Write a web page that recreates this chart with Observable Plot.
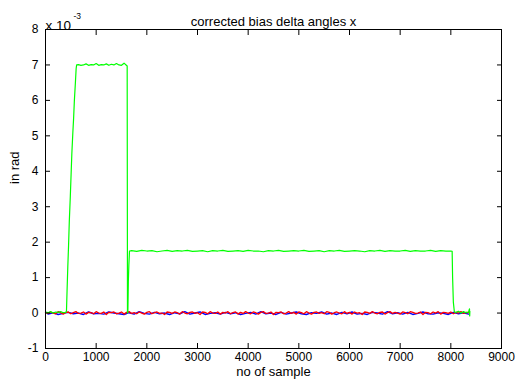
<!DOCTYPE html>
<html>
<head>
<meta charset="utf-8">
<script src="https://cdn.jsdelivr.net/npm/d3@7"></script>
<script src="https://cdn.jsdelivr.net/npm/@observablehq/plot@0.6"></script>
<style>
  html, body { margin: 0; padding: 0; background: #fff; }
  svg { font-family: "Liberation Sans", Arial, Helvetica, sans-serif; }
</style>
</head>
<body>
<div id="chart"></div>
<script>
// ---- labels ----
const titleText = "corrected bias delta angles x";
const xLabel = "no of sample";
const yLabel = "in rad";
const scaleBase = "x 10";
const scaleExp = "-3";
const xTicks = [0, 1000, 2000, 3000, 4000, 5000, 6000, 7000, 8000, 9000];
const yTicks = [-1, 0, 1, 2, 3, 4, 5, 6, 7, 8];

// ---- red series (values in 1e-3 rad) ----
const redSamples = [
0,50,100,150,200,250,300,350,400,450,
500,550,600,650,700,750,800,850,900,950,
1000,1050,1100,1150,1200,1250,1300,1350,1400,1450,
1500,1550,1600,1650,1700,1750,1800,1850,1900,1950,
2000,2050,2100,2150,2200,2250,2300,2350,2400,2450,
2500,2550,2600,2650,2700,2750,2800,2850,2900,2950,
3000,3050,3100,3150,3200,3250,3300,3350,3400,3450,
3500,3550,3600,3650,3700,3750,3800,3850,3900,3950,
4000,4050,4100,4150,4200,4250,4300,4350,4400,4450,
4500,4550,4600,4650,4700,4750,4800,4850,4900,4950,
5000,5050,5100,5150,5200,5250,5300,5350,5400,5450,
5500,5550,5600,5650,5700,5750,5800,5850,5900,5950,
6000,6050,6100,6150,6200,6250,6300,6350,6400,6450,
6500,6550,6600,6650,6700,6750,6800,6850,6900,6950,
7000,7050,7100,7150,7200,7250,7300,7350,7400,7450,
7500,7550,7600,7650,7700,7750,7800,7850,7900,7950,
8000,8050,8100,8150,8200,8250,8300,8350];
const redValues = [
0.02,-0.01,0.03,0.00,-0.02,0.04,0.01,-0.03,0.02,0.03,
-0.02,0.01,0.04,-0.01,0.00,0.03,-0.03,0.02,0.01,-0.02,
0.04,0.00,-0.01,0.03,-0.04,0.02,0.01,0.03,-0.02,0.00,
0.03,-0.03,0.02,0.04,-0.01,0.01,-0.02,0.03,0.00,-0.03,
0.02,0.04,-0.02,0.01,0.03,-0.01,0.00,-0.04,0.03,0.02,
-0.01,0.03,0.01,-0.03,0.04,0.00,-0.02,0.02,0.03,-0.01,
0.01,-0.04,0.03,0.02,-0.02,0.04,0.00,-0.01,0.03,-0.03,
0.02,0.00,0.04,-0.02,0.01,0.03,-0.03,0.02,-0.01,0.04,
0.00,-0.02,0.03,0.01,-0.03,0.02,0.04,-0.01,0.00,0.03,
-0.04,0.02,0.01,0.03,-0.02,0.00,0.04,-0.01,0.02,-0.03,
0.03,0.01,-0.02,0.04,0.00,-0.03,0.02,0.03,-0.01,0.01,
-0.02,0.04,0.02,-0.03,0.01,0.03,0.00,-0.02,0.04,-0.01,
0.02,-0.03,0.03,0.00,0.01,-0.04,0.03,0.02,-0.01,0.04,
0.00,-0.02,0.02,0.03,-0.03,0.01,0.04,-0.01,0.02,0.00,
-0.03,0.03,0.01,-0.02,0.04,0.02,-0.01,0.00,0.03,-0.04,
0.02,0.01,-0.02,0.03,0.00,0.04,-0.03,0.02,0.01,-0.01,
0.03,-0.02,0.02,0.00,0.04,-0.01,0.02,0.01];

// ---- blue series ----
const blueSamples = [50,150,250,350,450,550,650,750,850,950,1050,1150,1250,1350,1450,1550,1650,1750,1850,1950,2050,2150,2250,2350,2450,2550,2650,2750,2850,2950,3050,3150,3250,3350,3450,3550,3650,3750,3850,3950,4050,4150,4250,4350,4450,4550,4650,4750,4850,4950,5050,5150,5250,5350,5450,5550,5650,5750,5850,5950,6050,6150,6250,6350,6450,6550,6650,6750,6850,6950,7050,7150,7250,7350,7450,7550,7650,7750,7850,7950,8050,8150,8250,8350];
const blueValues = [
-0.03,0.01,-0.04,-0.01,0.02,-0.02,0.00,-0.04,0.03,-0.02,
-0.01,-0.03,0.03,0.00,-0.02,-0.04,0.01,-0.03,0.04,-0.01,
-0.03,0.02,-0.02,0.00,-0.04,0.01,-0.02,0.04,-0.03,0.00,
0.03,-0.04,-0.01,0.01,-0.03,0.02,-0.02,0.01,-0.04,-0.01,
0.02,-0.03,0.04,-0.02,0.00,-0.04,0.02,-0.03,0.00,0.03,
-0.02,-0.04,0.01,-0.01,0.03,-0.03,0.00,-0.04,0.02,-0.02,
0.03,-0.03,-0.01,-0.04,0.02,0.00,-0.03,0.04,-0.02,0.01,
-0.03,0.02,-0.04,-0.01,0.03,-0.02,-0.03,0.01,-0.01,-0.04,
0.02,-0.02,0.01,-0.03];

// ---- green series, by segment ----
const greenStartSamples = [0,50,100,150,200,250,300,350,400];
const greenStartValues  = [0.03,0.01,0.04,0.00,0.03,0.02,0.04,0.01,0.02];
const greenRampUpSamples = [414,425,440,455,470,490,505,520,540,555,570,590,605,615];
const greenRampUpValues  = [0.05,0.6,1.3,1.9,2.6,3.3,3.9,4.5,5.1,5.5,6.0,6.5,6.9,7.0];
const greenHighSamples = [650,700,750,800,850,900,950,1000,1050,1100,1150,1200,1250,1300,1350,1400,1450,1500,1550,1590,1612];
const greenHighValues  = [7.01,6.99,7.00,7.03,6.99,7.01,7.00,7.04,6.99,7.01,7.00,7.03,6.99,7.02,7.00,7.04,7.00,6.99,7.05,7.00,6.97];
const greenDropSamples = [1618,1626,1635,1645,1658];
const greenDropValues  = [0.00,0.03,0.9,1.35,1.75];
const greenMidSamples = [1700,1800,1900,2000,2100,2200,2300,2400,2500,2600,2700,2800,2900,3000,3100,3200,3300,3400,3500,3600,3700,3800,3900,4000,4100,4200,4300,4400,4500,4600,4700,4800,4900,5000,5100,5200,5300,5400,5500,5600,5700,5800,5900,6000,6100,6200,6300,6400,6500,6600,6700,6800,6900,7000,7100,7200,7300,7400,7500,7600,7700,7800,7900,8000];
const greenMidValues = [
1.76,1.74,1.77,1.75,1.76,1.73,1.75,1.77,1.74,1.76,
1.75,1.77,1.74,1.75,1.76,1.73,1.76,1.75,1.77,1.74,
1.75,1.76,1.74,1.77,1.75,1.75,1.73,1.76,1.75,1.77,
1.74,1.75,1.76,1.75,1.77,1.74,1.75,1.76,1.73,1.76,
1.75,1.77,1.74,1.75,1.76,1.75,1.73,1.76,1.75,1.77,
1.74,1.76,1.75,1.75,1.77,1.74,1.76,1.75,1.75,1.77,
1.74,1.76,1.75,1.75];
const greenEndSamples = [8026,8035,8050,8070,8100,8150,8200,8250,8300,8350,8368,8372,8376];
const greenEndValues  = [1.74,1.0,0.3,0.03,0.02,0.05,0.00,0.04,0.01,0.03,0.12,-0.08,0.05];

const toRows = (xs, ys) => xs.map((x, i) => ({x, y: ys[i]}));
const red = toRows(redSamples, redValues);
const blue = toRows(blueSamples, blueValues);
const green = [
  ...toRows(greenStartSamples, greenStartValues),
  ...toRows(greenRampUpSamples, greenRampUpValues),
  ...toRows(greenHighSamples, greenHighValues),
  ...toRows(greenDropSamples, greenDropValues),
  ...toRows(greenMidSamples, greenMidValues),
  ...toRows(greenEndSamples, greenEndValues)
];

const tickFont = 12;
const labelFont = 13;
const chart = Plot.plot({
  width: 518,
  height: 383,
  marginTop: 29,
  marginBottom: 35,
  marginLeft: 45,
  marginRight: 17,
  style: {fontFamily: '"Liberation Sans", Arial, Helvetica, sans-serif', fontSize: tickFont + "px", color: "#000", background: "#fff"},
  x: {domain: [0, 9000], label: null},
  y: {domain: [-1, 8], label: null},
  marks: [
    Plot.line(blue, {x: "x", y: "y", stroke: "#0000ff", strokeWidth: 1.4}),
    Plot.line(red, {x: "x", y: "y", stroke: "#ff0000", strokeWidth: 1.3}),
    Plot.line(green, {x: "x", y: "y", stroke: "#00ff00", strokeWidth: 1.2}),
    Plot.axisX({anchor: "bottom", ticks: xTicks, tickSize: -5, tickPadding: 9, tickFormat: d => String(d), fontSize: tickFont}),
    Plot.axisX({anchor: "top", ticks: xTicks, tickSize: -5, tickFormat: () => ""}),
    Plot.axisY({anchor: "left", ticks: yTicks, tickSize: -5, tickPadding: 12, tickFormat: d => String(d), fontSize: tickFont}),
    Plot.axisY({anchor: "right", ticks: yTicks, tickSize: -5, tickFormat: () => ""}),
    Plot.frame({stroke: "#000", strokeWidth: 1}),
    Plot.text([titleText], {text: d => d, frameAnchor: "top", dy: -13, fontSize: labelFont, letterSpacing: "0.3px"}),
    Plot.text([xLabel], {text: d => d, frameAnchor: "bottom", dy: 27.5, fontSize: labelFont, letterSpacing: "0.3px"}),
    Plot.text([yLabel], {text: d => d, frameAnchor: "left", dx: -31, dy: -5, rotate: -90, fontSize: labelFont, letterSpacing: "0.3px"}),
    Plot.text([scaleBase], {text: d => d, frameAnchor: "top-left", textAnchor: "start", dy: -9, fontSize: 13.5}),
    Plot.text([scaleExp], {text: d => d, frameAnchor: "top-left", textAnchor: "start", dx: 28, dy: -16.5, fontSize: 8.5})
  ]
});
document.getElementById("chart").appendChild(chart);
</script>
</body>
</html>
